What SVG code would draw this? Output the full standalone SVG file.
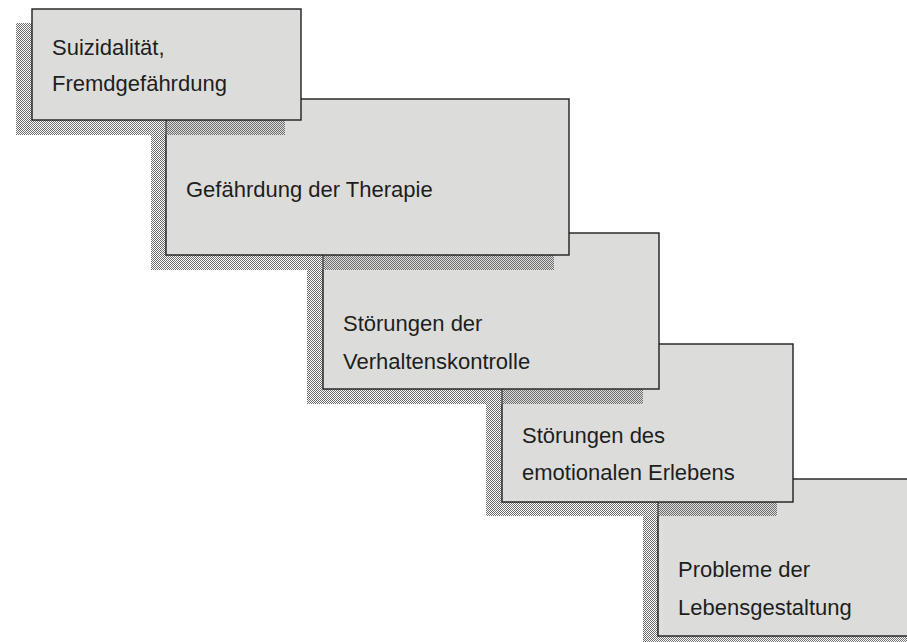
<svg xmlns="http://www.w3.org/2000/svg" width="907" height="642" viewBox="0 0 907 642">
  <defs>
    <pattern id="dither" patternUnits="userSpaceOnUse" width="2" height="2">
      <rect x="0" y="0" width="1" height="1" fill="#6e6e6e"/>
      <rect x="1" y="1" width="1" height="1" fill="#6e6e6e"/>
    </pattern>
  </defs>
  <style>
    .shadow { fill: url(#dither); }
    .box { fill: #dcdddb; stroke: #1e1e1e; stroke-width: 1.4; }
    .label { font-family: "Liberation Sans", Arial, sans-serif; font-size: 22px; fill: #1e1e1e; }
  </style>
  <rect x="0" y="0" width="907" height="642" fill="#ffffff"/>

  <g id="node5">
    <rect class="shadow" x="643" y="493" width="264" height="157"/>
    <rect class="box" x="658" y="479" width="260" height="157"/>
    <text class="label" x="678" y="577">Probleme der</text>
    <text class="label" x="678" y="615">Lebensgestaltung</text>
  </g>

  <g id="node4">
    <rect class="shadow" x="486" y="358" width="291" height="158"/>
    <rect class="box" x="502" y="344" width="291" height="158"/>
    <text class="label" x="522" y="443">Störungen des</text>
    <text class="label" x="522" y="480">emotionalen Erlebens</text>
  </g>

  <g id="node3">
    <rect class="shadow" x="307" y="247" width="336" height="157"/>
    <rect class="box" x="323" y="233" width="336" height="156"/>
    <text class="label" x="343" y="331">Störungen der</text>
    <text class="label" x="343" y="369">Verhaltenskontrolle</text>
  </g>

  <g id="node2">
    <rect class="shadow" x="151" y="113" width="403" height="157"/>
    <rect class="box" x="166" y="99" width="403" height="156"/>
    <text class="label" x="186" y="197">Gefährdung der Therapie</text>
  </g>

  <g id="node1">
    <rect class="shadow" x="16" y="23" width="269" height="112"/>
    <rect class="box" x="32" y="9" width="269" height="111"/>
    <text class="label" x="52" y="55">Suizidalität,</text>
    <text class="label" x="52" y="91">Fremdgefährdung</text>
  </g>
</svg>
